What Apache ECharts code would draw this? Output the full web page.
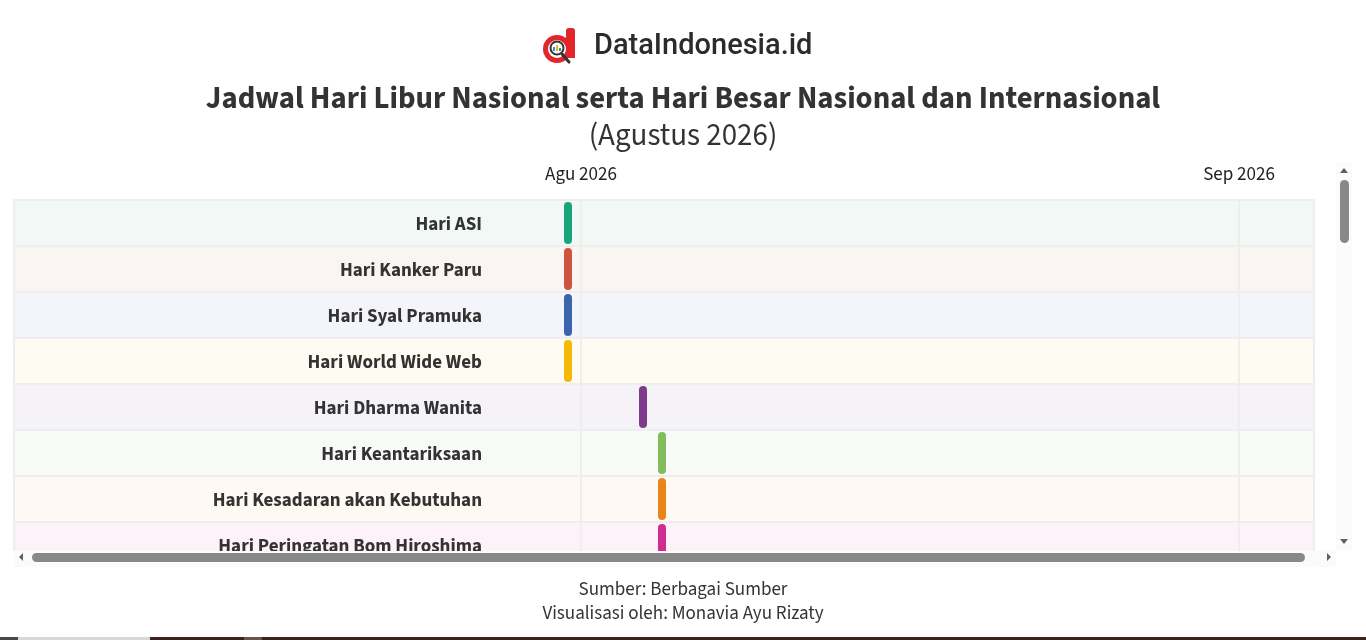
<!DOCTYPE html>
<html>
<head>
<meta charset="utf-8">
<script src="https://cdn.jsdelivr.net/npm/echarts@6/dist/echarts.min.js"></script>
<style>
html,body{margin:0;padding:0;background:#fff;}
#chart{width:1366px;height:640px;}
</style>
</head>
<body>
<div id="chart"></div>
<script>
// ---- data ----
const categories = [
  'Hari ASI',
  'Hari Kanker Paru',
  'Hari Syal Pramuka',
  'Hari World Wide Web',
  'Hari Dharma Wanita',
  'Hari Keantariksaan',
  'Hari Kesadaran akan Kebutuhan',
  'Hari Peringatan Bom Hiroshima'
];
const eventDates = [
  '2026-07-31 09:18',
  '2026-07-31 09:18',
  '2026-07-31 09:18',
  '2026-07-31 09:18',
  '2026-08-03 22:06',
  '2026-08-04 19:35',
  '2026-08-04 19:35',
  '2026-08-04 19:35'
];
const barColors = ['#16a67a','#cf5440','#3b66ae','#f4b807','#7e3a8c','#82bd5c','#e8861a','#d02a93'];
const rowTints  = ['#f2f8f6','#faf5f3','#f4f5fa','#fefbf2','#f5f3f7','#f7faf6','#fef9f3','#fcf2f7'];
const monthNames = ['Jan','Feb','Mar','Apr','Mei','Jun','Jul','Agu','Sep','Okt','Nov','Des'];
const axisMin = '2026-07-05 06:55';
const axisMax = '2026-09-04 12:47';

const FONT = "'Source Sans Pro', 'Source Sans 3', Lato, 'Noto Sans', sans-serif";

const chart = echarts.init(document.getElementById('chart'), null, {renderer: 'canvas'});

const seriesData = categories.map((c, i) => ({
  value: [eventDates[i], i],
  itemStyle: {color: barColors[i]}
}));

const option = {
  backgroundColor: '#ffffff',
  animation: false,
  title: [
    {
      text: 'Jadwal Hari Libur Nasional serta Hari Besar Nasional dan Internasional',
      left: 'center', top: 81,
      textStyle: {fontFamily: FONT, fontSize: 30.7, fontWeight: 'bold', color: '#333333'}
    },
    {
      text: '(Agustus 2026)',
      left: 'center', top: 118,
      textStyle: {fontFamily: FONT, fontSize: 31, fontWeight: 'normal', color: '#333333'}
    },
    {
      text: 'Sumber: Berbagai Sumber',
      left: 'center', top: 576,
      textStyle: {fontFamily: FONT, fontSize: 19, fontWeight: 'normal', color: '#333333'}
    },
    {
      text: 'Visualisasi oleh: Monavia Ayu Rizaty',
      left: 'center', top: 600,
      textStyle: {fontFamily: FONT, fontSize: 19, fontWeight: 'normal', color: '#333333'}
    }
  ],
  grid: {
    left: 14, right: 52, top: 200, bottom: 72,
    show: true, borderColor: '#eeeeee', borderWidth: 2, backgroundColor: 'transparent'
  },
  xAxis: {
    type: 'time',
    position: 'top',
    min: axisMin, max: axisMax,
    splitNumber: 2,
    minInterval: 28 * 86400000,
    axisLine: {show: false},
    axisTick: {show: false},
    axisLabel: {
      margin: 15,
      fontFamily: FONT, fontSize: 19, color: '#222222',
      showMinLabel: false, showMaxLabel: false,
      formatter: function (v) {
        const d = new Date(v);
        return monthNames[d.getMonth()] + ' ' + d.getFullYear();
      }
    },
    splitLine: {show: true, lineStyle: {color: '#eeeeee', width: 2}}
  },
  yAxis: {
    type: 'category',
    data: categories,
    inverse: true,
    axisLine: {show: false},
    axisTick: {show: false},
    axisLabel: {
      margin: -468,
      formatter: function (v) { return '{a|' + v + '}'; },
      rich: {
        a: {
          padding: [6, 0, 0, 0],
          fontFamily: FONT, fontSize: 19, fontWeight: 'bold', color: '#333333'
        }
      },
      fontFamily: FONT, fontSize: 19, fontWeight: 'bold', color: '#333333'
    },
    splitLine: {show: true, interval: 0, lineStyle: {color: '#eeeeee', width: 2}},
    splitArea: {show: true, interval: 0, areaStyle: {color: rowTints}}
  },
  series: [{
    type: 'custom',
    data: seriesData,
    encode: {x: 0, y: 1},
    renderItem: function (params, api) {
      const pt = api.coord([api.value(0), api.value(1)]);
      const band = api.size([0, 1])[1];
      return {
        type: 'rect',
        shape: {x: pt[0] - 4, y: pt[1] - band / 2 + 2, width: 8, height: band - 4, r: 4},
        style: {fill: api.visual('color')}
      };
    }
  }],
  graphic: [
    // logo
    {type: 'group', left: 543, top: 28, z: 100, children: [
      {type: 'circle', shape: {cx: 15, cy: 21, r: 14}, style: {fill: '#e3262c'}},
      {type: 'rect', shape: {x: 24, y: 0, width: 9, height: 30, r: [3,3,0,0]}, style: {fill: '#e3262c'}},
      {type: 'circle', shape: {cx: 15, cy: 21, r: 9}, style: {fill: '#ffffff'}},
      {type: 'circle', shape: {cx: 15, cy: 20, r: 6.5}, style: {fill: '#ffffff', stroke: '#333333', lineWidth: 2}},
      {type: 'rect', shape: {x: 11, y: 19, width: 2, height: 4}, style: {fill: '#2f8fd8'}},
      {type: 'rect', shape: {x: 14, y: 17, width: 2, height: 6}, style: {fill: '#f4b807'}},
      {type: 'rect', shape: {x: 17, y: 20, width: 2, height: 3}, style: {fill: '#16a67a'}},
      {type: 'line', shape: {x1: 20, y1: 26, x2: 27, y2: 34}, style: {stroke: '#333333', lineWidth: 3, lineCap: 'round'}}
    ]},
    {type: 'text', left: 594, top: 32, z: 100,
      style: {text: 'DataIndonesia.id', fontFamily: 'Roboto, sans-serif', fontSize: 29, fontWeight: 500, fill: '#2b2b2b'}},
    // cover below visible scroll area
    {type: 'rect', z: 100, shape: {x: 0, y: 551, width: 1366, height: 20}, style: {fill: '#ffffff'}},
    // horizontal scrollbar
    {type: 'rect', z: 101, shape: {x: 14, y: 551, width: 1322, height: 16}, style: {fill: '#fbfbfb'}},
    {type: 'rect', z: 102, shape: {x: 32, y: 553, width: 1273, height: 9, r: 4.5}, style: {fill: '#888888'}},
    {type: 'polygon', z: 102, shape: {points: [[23,553],[23,561],[19,557]]}, style: {fill: '#606060'}},
    {type: 'polygon', z: 102, shape: {points: [[1327,553],[1327,561],[1331,557]]}, style: {fill: '#606060'}},
    // vertical scrollbar
    {type: 'rect', z: 101, shape: {x: 1336, y: 163, width: 16, height: 388}, style: {fill: '#fbfbfb'}},
    {type: 'rect', z: 102, shape: {x: 1340, y: 180, width: 9, height: 63, r: 4.5}, style: {fill: '#888888'}},
    {type: 'polygon', z: 102, shape: {points: [[1340,173],[1348,173],[1344,168]]}, style: {fill: '#606060'}},
    {type: 'polygon', z: 102, shape: {points: [[1340,539],[1348,539],[1344,544]]}, style: {fill: '#606060'}},
    // bottom strip
    {type: 'rect', z: 100, shape: {x: 0, y: 637, width: 18, height: 3}, style: {fill: '#4a4a44'}},
    {type: 'rect', z: 100, shape: {x: 18, y: 637, width: 132, height: 3}, style: {fill: '#d8d8d8'}},
    {type: 'rect', z: 100, shape: {x: 150, y: 637, width: 1216, height: 3}, style: {fill: '#3d221f'}},
    {type: 'rect', z: 100, shape: {x: 244, y: 637, width: 18, height: 3}, style: {fill: '#6a5450'}}
  ]
};
chart.setOption(option);
</script>
</body>
</html>
